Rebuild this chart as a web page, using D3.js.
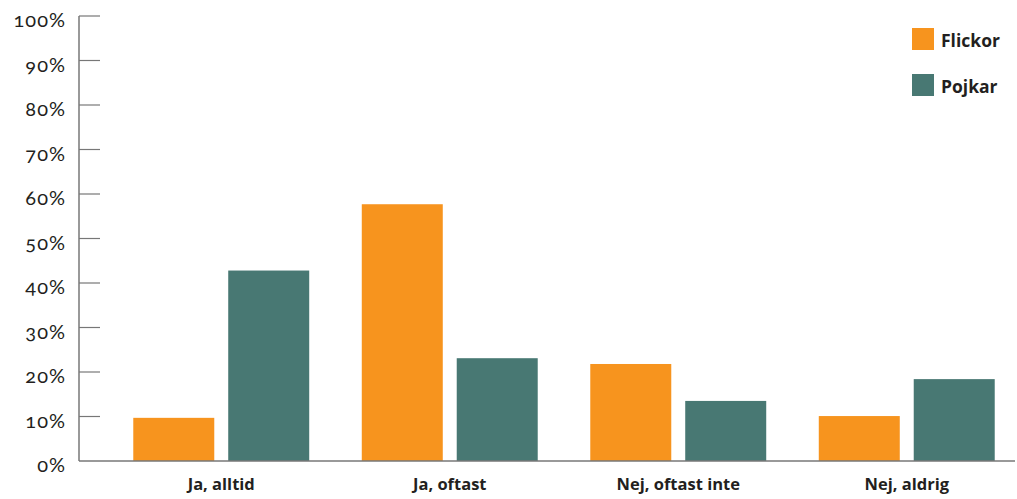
<!DOCTYPE html>
<html>
<head>
<meta charset="utf-8">
<script src="https://cdn.jsdelivr.net/npm/d3@7"></script>
<style>
  html, body { margin: 0; padding: 0; background: #fff; }
  svg { display: block; }
  .ytick text { font-family: Lato, "Open Sans", sans-serif; font-size: 20px; letter-spacing: 1px; fill: #231f20; font-variant-numeric: oldstyle-nums; }
  .cat { font-family: "Open Sans", sans-serif; font-weight: bold; font-size: 16.5px; fill: #231f20; }
  .leg { font-family: "Open Sans", sans-serif; font-weight: bold; font-size: 17.5px; fill: #231f20; }
</style>
</head>
<body>
<svg id="chart" width="1017" height="499"></svg>
<script>
// Svar per kategori, andel i procent
const categories = ["Ja, alltid", "Ja, oftast", "Nej, oftast inte", "Nej, aldrig"];
const seriesNames = ["Flickor", "Pojkar"];
const flickor = [9.7, 57.7, 21.8, 10.1];
const pojkar = [42.8, 23.1, 13.5, 18.4];
const yTicks = [0, 10, 20, 30, 40, 50, 60, 70, 80, 90, 100];
const colors = ["#f7941e", "#487873"];

const svg = d3.select("#chart");
const values = [flickor, pojkar];

const y = d3.scaleLinear().domain([0, 100]).range([461, 16]);
const x0 = d3.scaleBand().domain(categories).range([107, 1021])
  .paddingInner(0.23).paddingOuter(0.115);
const x1 = d3.scaleBand().domain(seriesNames).range([0, x0.bandwidth()])
  .paddingInner(0.147);

// y-axis: vertical line with inward ticks
const axisX = 79;
svg.append("line")
  .attr("x1", axisX).attr("x2", axisX)
  .attr("y1", y(100)).attr("y2", y(0))
  .attr("stroke", "#555").attr("stroke-width", 1.2);

const ticks = svg.selectAll(".ytick").data(yTicks).enter().append("g")
  .attr("class", "ytick")
  .attr("transform", d => `translate(0,${y(d)})`);
ticks.filter(d => d > 0).append("line")
  .attr("x1", axisX).attr("x2", axisX + 21)
  .attr("stroke", "#777").attr("stroke-width", 1.2);
ticks.append("text")
  .attr("x", 66).attr("y", 11)
  .attr("text-anchor", "end")
  .text(d => d + "%");

// bars
const groups = svg.selectAll(".grp").data(categories).enter().append("g")
  .attr("class", "grp")
  .attr("transform", c => `translate(${x0(c)},0)`);
groups.selectAll("rect")
  .data((c, i) => seriesNames.map((s, k) => ({ s, v: values[k][i], k })))
  .enter().append("rect")
  .attr("x", d => x1(d.s))
  .attr("width", x1.bandwidth())
  .attr("y", d => y(d.v))
  .attr("height", d => y(0) - y(d.v))
  .attr("fill", d => colors[d.k]);

// baseline
svg.append("line")
  .attr("x1", axisX).attr("x2", 1015)
  .attr("y1", y(0)).attr("y2", y(0))
  .attr("stroke", "#777").attr("stroke-width", 1.5);

// category labels
svg.selectAll(".cat").data(categories).enter().append("text")
  .attr("class", "cat")
  .attr("x", c => x0(c) + x0.bandwidth() / 2)
  .attr("y", 490)
  .attr("text-anchor", "middle")
  .text(c => c);

// legend
const leg = svg.selectAll(".legitem").data(seriesNames).enter().append("g")
  .attr("class", "legitem")
  .attr("transform", (d, i) => `translate(912,${28 + i * 46})`);
leg.append("rect").attr("width", 22).attr("height", 22)
  .attr("fill", (d, i) => colors[i]);
leg.append("text").attr("class", "leg")
  .attr("x", 29).attr("y", 19)
  .text(d => d);
</script>
</body>
</html>
